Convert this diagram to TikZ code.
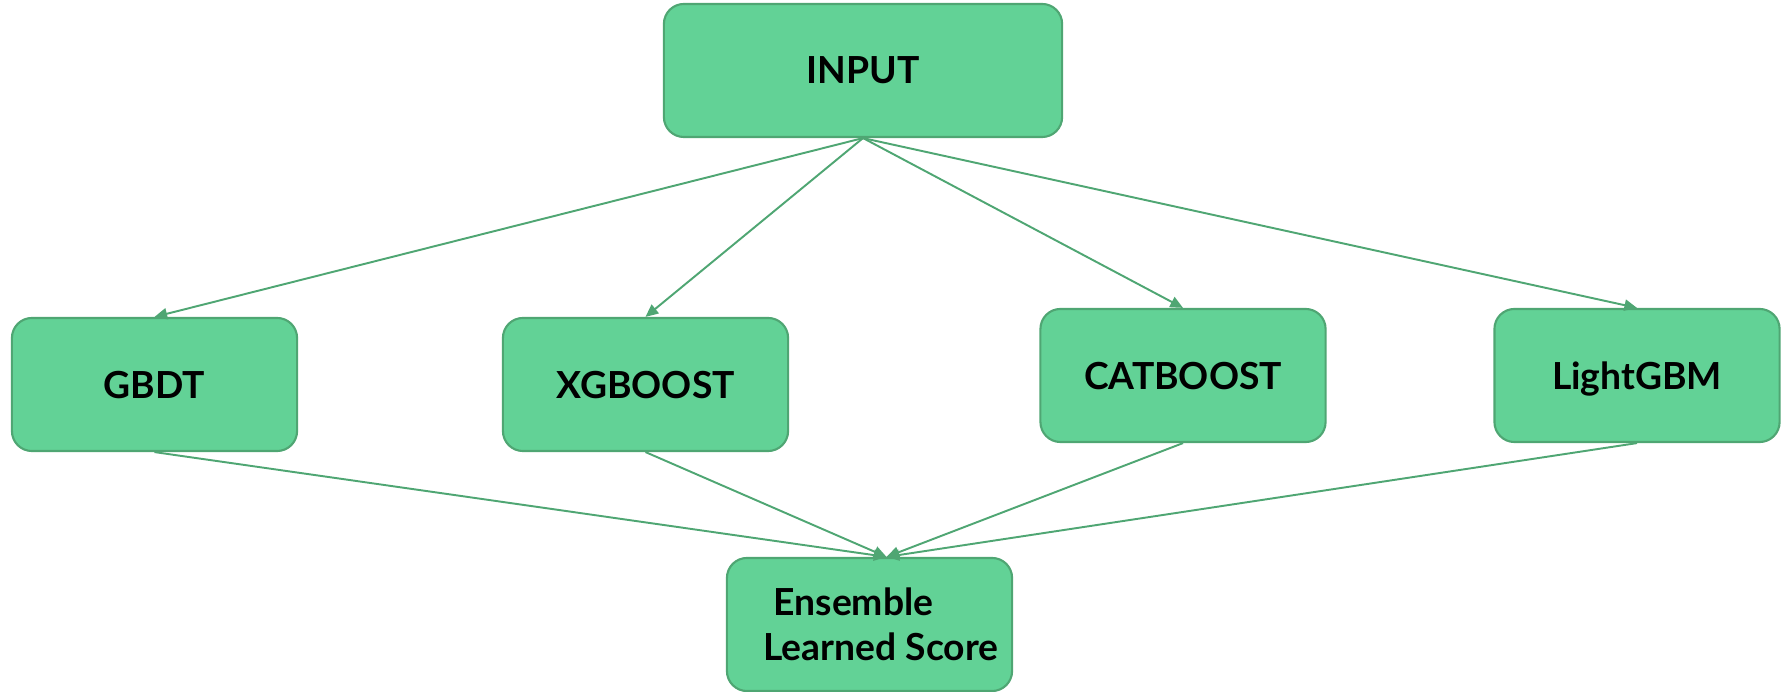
\documentclass[tikz,border=0pt]{standalone}
\usepackage{fontspec}
\setmainfont{Lato}
\usepackage{tikz}
\usetikzlibrary{arrows.meta}
\definecolor{boxfill}{HTML}{62D296}
\definecolor{boxedge}{HTML}{4FA673}
\definecolor{link}{HTML}{4FA673}
\tikzset{
  model/.style={draw=boxedge, line width=0.6pt, fill=boxfill, rounded corners=0.2cm,
    minimum width=2.85cm, minimum height=1.33cm, inner sep=0pt,
    font=\bfseries\fontsize{10.6}{12.8}\selectfont},
  flow/.style={draw=link, line width=0.55pt, -{Triangle[length=3.6pt,width=3.2pt]}}
}

\begin{document}
\begin{tikzpicture}[x=0.01cm, y=-0.01cm]
  \useasboundingbox (0,0) rectangle (1789,692);

  % top and bottom boxes
  \node[model, minimum width=3.98cm] (input) at (863,70.5) {INPUT};
  \node[model, align=left] (ens) at (869.5,624.5)
    {\hspace*{0.33cm}Ensemble\\\hspace*{0.23cm}Learned Score};

  % the four boosting models
  \node[model, text depth=0pt] (gbdt) at (154.5,384.5) {GBDT\hspace{0.26cm}};
  \node[model, text depth=0pt] (xgb)  at (645.5,384.5) {XGBOOST\hspace{0.3cm}};
  \node[model, text depth=0pt] (cat)  at (1183,375.5)  {CATBOOST\hspace{0.26cm}};
  \node[model, text depth=0pt] (lgbm) at (1637,375.5)  {LightGBM\hspace{0.2cm}};

  % input feeds every model
  \foreach \m in {gbdt,xgb,cat,lgbm}
    \draw[flow] (input.south) -- (\m.north);

  % models feed the ensemble
  \foreach \m in {gbdt,xgb,cat,lgbm}
    \draw[flow] (\m.south) -- ([xshift=0.17cm]ens.north);
\end{tikzpicture}
\end{document}
